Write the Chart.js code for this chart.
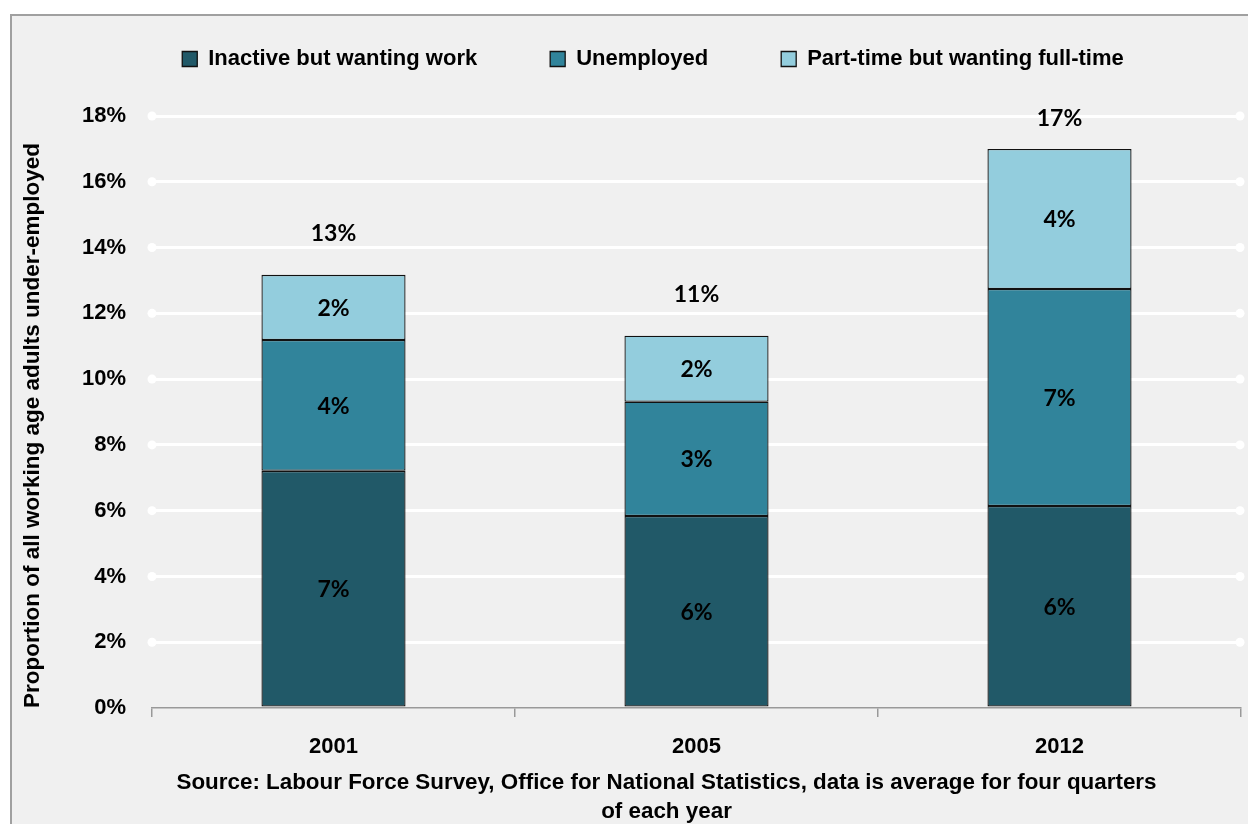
<!DOCTYPE html>
<html>
<head>
<meta charset="utf-8">
<script src="https://cdn.jsdelivr.net/npm/chart.js@4/dist/chart.umd.min.js"></script>
<style>
  html, body { margin: 0; padding: 0; background: #ffffff; overflow: hidden; width: 1248px; height: 824px; }
  #frame { position: absolute; left: 10px; top: 14px; border-left: 2px solid #a0a0a0; border-top: 2px solid #a0a0a0; background: #f0f0f0; }
  #box { position: relative; width: 1282px; height: 812px; }
</style>
</head>
<body>
<div id="frame"><div id="box"><canvas id="c"></canvas></div></div>
<script>
const categories = ['2001', '2005', '2012'];
const seriesNames = ['Inactive but wanting work', 'Unemployed', 'Part-time but wanting full-time'];
const inactive = [7.21, 5.84, 6.14];
const unemployed = [3.98, 3.47, 6.60];
const partTime = [1.98, 2.01, 4.26];
const yTicks = [0, 2, 4, 6, 8, 10, 12, 14, 16, 18];
const sourceLines = ['Source: Labour Force Survey, Office for National Statistics, data is average for four quarters', 'of each year'];
const yTitle = 'Proportion of all working age adults under-employed';

const colors = ['#215968', '#31849b', '#93cddd'];
const MAINF = "'Liberation Sans', Arial, sans-serif";
const LABELF = "Lato, 'Open Sans', sans-serif";

const seriesData = [inactive, unemployed, partTime];

const gridDots = {
  id: 'gridDots',
  beforeDatasetsDraw(chart) {
    const ctx = chart.ctx, y = chart.scales.y, a = chart.chartArea;
    ctx.save();
    ctx.fillStyle = '#ffffff';
    y.ticks.forEach(t => {
      if (t.value <= 0) return;
      const py = y.getPixelForValue(t.value);
      [a.left, a.right - 1].forEach(px => {
        ctx.beginPath(); ctx.arc(px, py, 4.5, 0, Math.PI * 2); ctx.fill();
      });
    });
    ctx.restore();
  }
};

const barLabels = {
  id: 'barLabels',
  afterDatasetsDraw(chart) {
    const ctx = chart.ctx, a = chart.chartArea;
    ctx.save();
    ctx.fillStyle = '#000';
    ctx.textAlign = 'center';
    ctx.textBaseline = 'middle';
    ctx.font = 'bold 23px ' + LABELF;
    chart.data.datasets.forEach((ds, di) => {
      const meta = chart.getDatasetMeta(di);
      meta.data.forEach((bar, i) => {
        const p = bar.getProps(['x', 'y', 'base'], true);
        ctx.fillText(Math.round(ds.data[i]) + '%', p.x, (p.y + p.base) / 2 + 1);
      });
    });
    const last = chart.getDatasetMeta(chart.data.datasets.length - 1);
    categories.forEach((c, i) => {
      const total = seriesData.reduce((s, arr) => s + arr[i], 0);
      const p = last.data[i].getProps(['x', 'y'], true);
      const ty = Math.max(p.y - 41, a.top + 3);
      ctx.fillText(Math.round(total) + '%', p.x, ty);
    });
    ctx.restore();
  }
};

const sourceText = {
  id: 'sourceText',
  afterDraw(chart) {
    const ctx = chart.ctx, a = chart.chartArea;
    ctx.save();
    ctx.fillStyle = '#000';
    ctx.textAlign = 'center';
    ctx.textBaseline = 'middle';
    ctx.font = 'bold 22.4px ' + MAINF;
    const cx = (a.left + a.right) / 2 - 30;
    sourceLines.forEach((l, k) => ctx.fillText(l, cx, a.bottom + 75 + k * 29));
    ctx.restore();
  }
};

function build() {
  new Chart(document.getElementById('c'), {
    type: 'bar',
    data: {
      labels: categories,
      datasets: seriesNames.map((n, k) => ({
        label: n,
        data: seriesData[k],
        backgroundColor: colors[k],
        borderColor: '#111',
        borderWidth: 1.3,
        borderSkipped: false,
        categoryPercentage: 1,
        barPercentage: 0.397
      }))
    },
    options: {
      responsive: true,
      maintainAspectRatio: false,
      animation: false,
      layout: { padding: { top: -41, left: 0, right: 0, bottom: 60 } },
      plugins: {
        legend: {
          position: 'top',
          weight: 3000,
          labels: {
            color: '#000',
            font: { family: MAINF, size: 22, weight: 'bold' },
            boxWidth: 15, boxHeight: 15,
            padding: 73
          }
        },
        title: {
          display: true,
          text: '',
          position: 'top',
          weight: 500,
          font: { size: 20 },
          padding: { top: 7, bottom: 5 }
        },
        tooltip: { enabled: false }
      },
      scales: {
        x: {
          stacked: true,
          grid: { display: true, drawOnChartArea: false, drawTicks: true, tickLength: 9, color: '#999', lineWidth: 1.5, offset: true },
          border: { display: true, color: '#999', width: 1.5 },
          ticks: { color: '#000', font: { family: MAINF, size: 22, weight: 'bold' }, padding: 17 },
          afterFit(s) { s.height = 60; s.paddingRight = 53; }
        },
        y: {
          stacked: true,
          min: 0, max: 18,
          afterBuildTicks(s) { s.ticks = yTicks.map(v => ({ value: v })); },
          grid: { color: ctx => (ctx.tick && ctx.tick.value === 0) ? 'rgba(0,0,0,0)' : '#ffffff', lineWidth: 3, drawTicks: false },
          border: { display: false },
          ticks: { color: '#000', font: { family: MAINF, size: 22, weight: 'bold' }, padding: 26, callback: v => v + '%' },
          title: { display: true, text: yTitle, align: 'start', color: '#000', font: { family: MAINF, size: 22.5, weight: 'bold' }, padding: { top: 7, bottom: 0 } },
          afterFit(s) { s.width = 140; }
        }
      }
    },
    plugins: [gridDots, barLabels, sourceText]
  });
}

Promise.all([
  document.fonts.load('bold 23px Lato'),
  document.fonts.load('bold 22px "Liberation Sans"')
]).catch(() => {}).then(build);
</script>
</body>
</html>
